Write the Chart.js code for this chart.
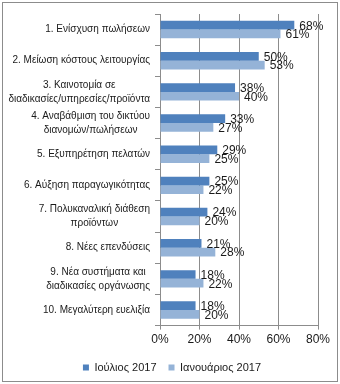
<!DOCTYPE html>
<html>
<head>
<meta charset="utf-8">
<script src="https://cdn.jsdelivr.net/npm/chart.js@4"></script>
<style>
  body { margin: 0; background: #fff; }
  #wrap { position: relative; width: 340px; height: 384px; }
  #frame { position: absolute; left: 2px; top: 2px; width: 334px; height: 378px; border: 1px solid #8c8c8c; pointer-events: none; }
</style>
</head>
<body>
<div id="wrap">
  <canvas id="chart" width="340" height="384"></canvas>
  <div id="frame"></div>
</div>
<script>
const categories = [
  ["1. Ενίσχυση πωλήσεων"],
  ["2. Μείωση κόστους λειτουργίας"],
  ["3. Καινοτομία σε", "διαδικασίες/υπηρεσίες/προϊόντα"],
  ["4. Αναβάθμιση του δικτύου", "διανομών/πωλήσεων"],
  ["5. Εξυπηρέτηση πελατών"],
  ["6. Αύξηση παραγωγικότητας"],
  ["7. Πολυκαναλική διάθεση", "προϊόντων"],
  ["8. Νέες επενδύσεις"],
  ["9. Νέα συστήματα και", "διαδικασίες οργάνωσης"],
  ["10. Μεγαλύτερη ευελιξία"]
];
const july2017 = [68, 50, 38, 33, 29, 25, 24, 21, 18, 18];
const jan2017 = [61, 53, 40, 27, 25, 22, 20, 28, 22, 20];
const xTicks = [0, 20, 40, 60, 80];

const FONT = "'Liberation Sans', Arial, sans-serif";

// Excel-like category labels: block right aligned, lines centred inside it
const yLabels = {
  id: "yLabels",
  afterDraw(chart) {
    const ctx = chart.ctx;
    const sc = chart.scales.y;
    ctx.save();
    ctx.font = "10px " + FONT;
    ctx.fillStyle = "#1a1a1a";
    ctx.textBaseline = "middle";
    ctx.textAlign = "center";
    const right = sc.right - 10;
    categories.forEach((lines, i) => {
      const y = sc.getPixelForValue(i);
      const w = Math.max(...lines.map((l) => ctx.measureText(l).width));
      const lh = 14;
      const y0 = y - ((lines.length - 1) * lh) / 2;
      lines.forEach((l, j) => {
        ctx.fillText(l, right - w / 2, y0 + j * lh);
      });
    });
    ctx.restore();
  }
};

const valueLabels = {
  id: "valueLabels",
  afterDatasetsDraw(chart) {
    const ctx = chart.ctx;
    ctx.save();
    ctx.font = "12px " + FONT;
    ctx.fillStyle = "#1a1a1a";
    ctx.textBaseline = "middle";
    ctx.textAlign = "left";
    chart.data.datasets.forEach((ds, di) => {
      chart.getDatasetMeta(di).data.forEach((bar, i) => {
        ctx.fillText(ds.data[i] + "%", bar.x + 5, bar.y + 1);
      });
    });
    ctx.restore();
  }
};

// legend in the original sits a little right of the canvas centre
const legendShift = {
  id: "legendShift",
  afterLayout(chart) {
    chart.legend.left += 12;
    chart.legend.right += 12;
    chart.legend.adjustHitBoxes && chart.legend.adjustHitBoxes();
  }
};

new Chart(document.getElementById("chart"), {
  type: "bar",
  data: {
    labels: categories.map((c) => c.join(" ")),
    datasets: [
      {
        label: "Ιούλιος 2017",
        data: july2017,
        backgroundColor: "#4f81bd",
        barPercentage: 1,
        categoryPercentage: 0.56
      },
      {
        label: "Ιανουάριος 2017",
        data: jan2017,
        backgroundColor: "#95b3d7",
        barPercentage: 1,
        categoryPercentage: 0.56
      }
    ]
  },
  options: {
    indexAxis: "y",
    responsive: false,
    animation: false,
    layout: { padding: { top: 14, right: 22, left: 2, bottom: 1 } },
    scales: {
      x: {
        min: 0,
        max: 80,
        afterBuildTicks: (sc) => {
          sc.ticks = xTicks.map((v) => ({ value: v }));
        },
        ticks: {
          callback: (v) => v + "%",
          color: "#1a1a1a",
          font: { family: FONT, size: 12 },
          padding: 3
        },
        grid: { color: "#8c8c8c", tickLength: 4, drawTicks: true },
        border: { color: "#8c8c8c" }
      },
      y: {
        offset: true,
        ticks: { display: false },
        grid: {
          offset: true,
          drawOnChartArea: false,
          drawTicks: true,
          tickLength: 5,
          color: "#8c8c8c"
        },
        border: { color: "#8c8c8c" },
        afterFit: (sc) => {
          sc.width = 158;
        }
      }
    },
    plugins: {
      legend: {
        position: "bottom",
        labels: {
          boxWidth: 6,
          boxHeight: 6,
          padding: 12,
          color: "#1a1a1a",
          font: { family: FONT, size: 11 }
        }
      },
      tooltip: { enabled: false }
    }
  },
  plugins: [yLabels, valueLabels, legendShift]
});
</script>
</body>
</html>
